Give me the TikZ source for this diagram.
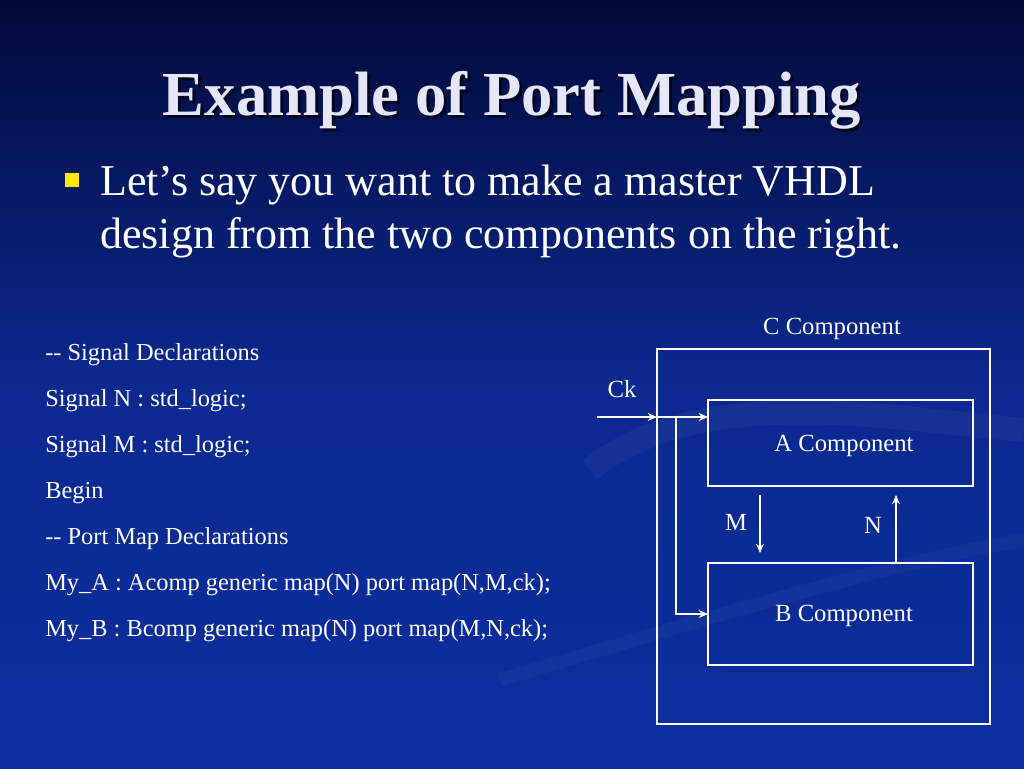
\documentclass[tikz,border=0pt]{standalone}
\usepackage{fontspec}
\setmainfont{Liberation Serif}
\usetikzlibrary{arrows.meta}
\definecolor{bgtop}{HTML}{020A3A}
\definecolor{bgbot}{HTML}{0C2E9E}
\definecolor{titlec}{HTML}{E6E6F8}
\begin{document}
\begin{tikzpicture}[x=0.75pt,y=-0.75pt,
  box/.style={draw=white,line width=0.8pt},
  lbl/.style={text=white,font=\fontsize{18.5}{22}\selectfont,inner sep=0},
  code/.style={text=white,font=\fontsize{18.3}{22}\selectfont,anchor=west,inner sep=0},
  wire/.style={draw=white,line width=0.8pt,-{Stealth[length=7pt,width=6pt]}}]
\useasboundingbox (0,0) rectangle (1024,768);
\shade[top color=bgtop,bottom color=bgbot,middle color=bgbot!85!bgtop] (0,0) rectangle (1024,768);
\draw[white,opacity=0.04,line width=18pt] (590,470) .. controls (700,380) and (900,420) .. (1024,430);
\draw[white,opacity=0.035,line width=10pt] (500,680) .. controls (700,620) and (900,560) .. (1024,540);
% title
\node[text=black,opacity=0.6,font=\bfseries\fontsize{47}{56}\selectfont] at (515,103) {Example of Port Mapping};
\node (title) [text=titlec,font=\bfseries\fontsize{47}{56}\selectfont] at (512,100) {Example of Port Mapping};
% bullet
\node (bul) [fill=yellow!90!orange,minimum size=11pt,inner sep=0] at (72,180) {};
\node (bt1) [text=white,anchor=west,inner sep=0,font=\fontsize{33}{40}\selectfont] at (100,185) {Let’s say you want to make a master VHDL};
\node (bt2) [text=white,anchor=west,inner sep=0,font=\fontsize{33}{40}\selectfont] at (100,238) {design from the two components on the right.};
% code
\node (c1) [code] at (45,355) {{-}{-} Signal Declarations};
\node (c2) [code] at (45,401) {Signal N : std\_logic;};
\node (c3) [code] at (45,447) {Signal M : std\_logic;};
\node (c4) [code] at (45,493) {Begin};
\node (c5) [code] at (45,539) {{-}{-} Port Map Declarations};
\node (c6) [code] at (45,585) {My\_A : Acomp generic map(N) port map(N,M,ck);};
\node (c7) [code] at (45,631) {My\_B : Bcomp generic map(N) port map(M,N,ck);};
% diagram
\node (clbl) [lbl] at (832,329) {C Component};
\draw[box] (657,349) rectangle (990,724);
\draw[box] (708,400) rectangle (973,486);
\node (albl) [lbl] at (844,446) {A Component};
\draw[box] (708,563) rectangle (973,665);
\node (blbl) [lbl] at (844,616) {B Component};
\node (cklbl) [lbl] at (622,389) {Ck};
\coordinate (ckin) at (597,417);
\coordinate (cedge) at (657,417);
\coordinate (aedge) at (708,417);
\coordinate (br) at (676,417);
\coordinate (brd) at (676,614);
\coordinate (bedge) at (708,614);
\draw[wire] (ckin) -- (cedge);
\draw[wire] (cedge) -- (aedge);
\draw[wire] (br) -- (brd) -- (bedge);
\coordinate (m1) at (760,495);
\coordinate (m2) at (760,553);
\draw[wire] (m1) -- (m2);
\node (mlbl) [lbl] at (736,522) {M};
\coordinate (n1) at (896,563);
\coordinate (n2) at (896,495);
\draw[wire] (n1) -- (n2);
\node (nlbl) [lbl] at (873,525) {N};
\end{tikzpicture}
\end{document}
